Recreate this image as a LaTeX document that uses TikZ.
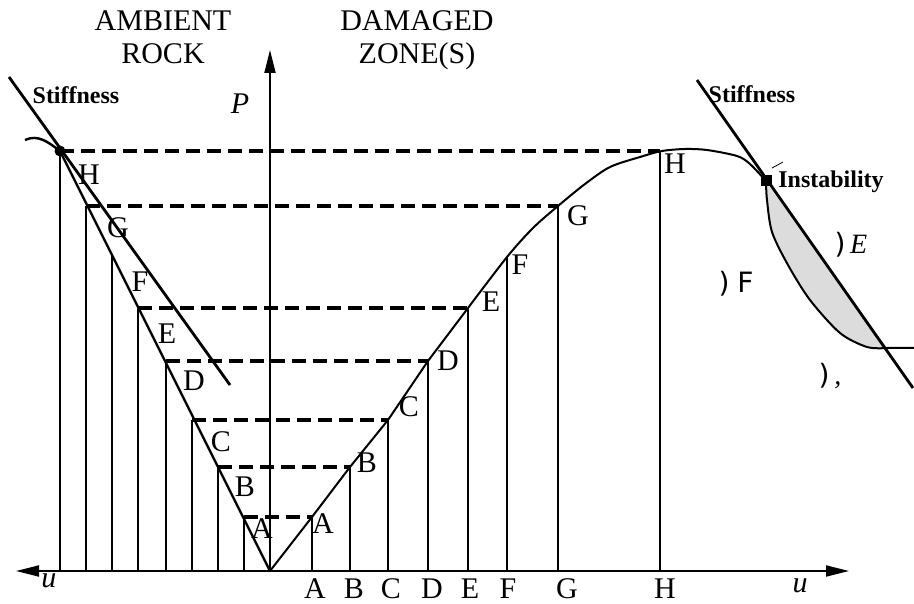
\documentclass[tikz,border=0pt]{standalone}
\usepackage{fontspec}
\setmainfont{Liberation Serif}
\setsansfont{DejaVu Sans}
\usepackage{xcolor}
\usetikzlibrary{arrows.meta}

\definecolor{shadegray}{RGB}{220,220,220}
\tikzset{axtip/.tip={Triangle[length=23pt, width=11pt]}}

\begin{document}
\begin{tikzpicture}[
    x=1pt, y=-1pt,
    axis/.style={line width=1.8pt},
    rock/.style={line width=2.4pt},
    stiff/.style={line width=2.8pt},
    curve/.style={line width=2pt},
    guide/.style={line width=1.8pt},
    level/.style={line width=3.4pt, dash pattern=on 14pt off 7pt},
    lbl/.style={font=\fontsize{30}{33}\selectfont, inner sep=0pt},
    title/.style={font=\fontsize{30}{33}\selectfont, align=center, inner sep=0pt, anchor=north},
    tag/.style={font=\bfseries\fontsize{24}{26}\selectfont, inner sep=0pt},
    glyph/.style={font=\sffamily\fontsize{28}{30}\selectfont, inner sep=0pt}
]
\useasboundingbox (0,0) rectangle (914,604);

% origin and axis ends
\coordinate (O) at (270,571);
\coordinate (uL) at (16,571);
\coordinate (uR) at (849,571);
\coordinate (Ptop) at (270,50);

% ambient rock (left) and damaged zone (right) points
\coordinate (lA) at (244,517);
\coordinate (lB) at (218,467);
\coordinate (lC) at (192,420);
\coordinate (lD) at (166,361);
\coordinate (lE) at (138,308);
\coordinate (lF) at (112,256);
\coordinate (lG) at (86,206);
\coordinate (lH) at (60,151);
\coordinate (rA) at (312,517);
\coordinate (rB) at (350,467);
\coordinate (rC) at (388,420);
\coordinate (rD) at (428,361);
\coordinate (rE) at (468,308);
\coordinate (rF) at (507,257);
\coordinate (rG) at (558,206);
\coordinate (rH) at (660,151);
\coordinate (ins) at (766,181);
\coordinate (tail) at (914,348);

% stiffness lines
\coordinate (sL1) at (9,77);
\coordinate (sL2) at (230,385);
\coordinate (sR1) at (697,80);
\coordinate (sR2) at (913,388);

% shaded unstable region
\fill[shadegray] plot[smooth] coordinates {(766,182) (767,200) (772,232) (788,265) (810,300) (840,333) (867,347) (887,348)} -- cycle;

% vertical guides
\foreach \p in {lA,lB,lC,lD,lE,lF,lG,lH,rA,rB,rC,rD,rE,rF,rG,rH}
    \draw[guide] (\p) -- (\p |- O);

% load levels
\foreach \k in {A,B,C,D,E,G,H}
    \draw[level] (l\k) -- (r\k);

% axes
\draw[axis, axtip-axtip] (uL) -- (uR);
\draw[axis, -axtip] (O) -- (Ptop);

% rock unloading line
\draw[rock] (O) -- (lH);
\draw[rock] (25,140) .. controls (38,134) and (48,142) .. (lH);
\fill (lH) circle (5.5pt);

% damaged zone response
\draw[curve] (O) -- (rA) -- (rB) -- (rC) -- (rD) -- (rE);
\draw[curve] plot[smooth] coordinates {(468,308) (507,257) (533,228) (558,206) (585,184) (610,167) (640,157) (662,151) (685,149) (707,150) (737,156) (750,164) (766,181)};
\draw[curve] plot[smooth] coordinates {(766,182) (767,200) (772,232) (788,265) (810,300) (840,333) (867,347) (887,348)} -- (tail);

\draw[stiff] (sL1) -- (sL2);
\draw[stiff] (sR1) -- (sR2);
\draw[line width=0.8pt] (772,168) -- (783,162);
\fill (ins) +(-5.5,-5.5) rectangle +(5.5,5.5);

% titles
\node[title] (amb) at (163,10) {AMBIENT\\ROCK};
\node[title] (dam) at (417,10) {DAMAGED\\ZONE(S)};

% axis labels
\node[lbl] (pl) at (240,104) {\textit{P}};
\node[lbl] (ul) at (49,581) {\textit{u}};
\node[lbl] (ur) at (800,586) {\textit{u}};

% left labels
\node[lbl] (tlH) at (89,175) {H};
\node[lbl] (tlG) at (118,228) {G};
\node[lbl] (tlF) at (140,282) {F};
\node[lbl] (tlE) at (167,334) {E};
\node[lbl] (tlD) at (194,381) {D};
\node[lbl] (tlC) at (221,442) {C};
\node[lbl] (tlB) at (245,487) {B};
\node[lbl] (tlA) at (262,529) {A};

% right labels
\node[lbl] (trA) at (323,524) {A};
\node[lbl] (trB) at (367,463) {B};
\node[lbl] (trC) at (409,407) {C};
\node[lbl] (trD) at (448,361) {D};
\node[lbl] (trE) at (491,302) {E};
\node[lbl] (trF) at (520,265) {F};
\node[lbl] (trG) at (578,216) {G};
\node[lbl] (trH) at (675,164) {H};

% bottom labels
\node[lbl] (bA) at (315,589) {A};
\node[lbl] (bB) at (354,589) {B};
\node[lbl] (bC) at (391,589) {C};
\node[lbl] (bD) at (432,589) {D};
\node[lbl] (bE) at (470,589) {E};
\node[lbl] (bF) at (508,589) {F};
\node[lbl] (bG) at (567,589) {G};
\node[lbl] (bH) at (665,589) {H};

% tags
\node[tag] (stl) at (76,95) {Stiffness};
\node[tag] (str) at (752,94) {Stiffness};
\node[tag] (inst) at (831,182) {Instability};

% stray glyphs
\node[glyph] (gE) at (851,245) {)\,{\rmfamily\itshape E}};
\node[glyph] (gF) at (736,284) {)\;F};
\node[glyph] (gC) at (830,376) {)\,{\rmfamily\itshape ,}};

\end{tikzpicture}
\end{document}
